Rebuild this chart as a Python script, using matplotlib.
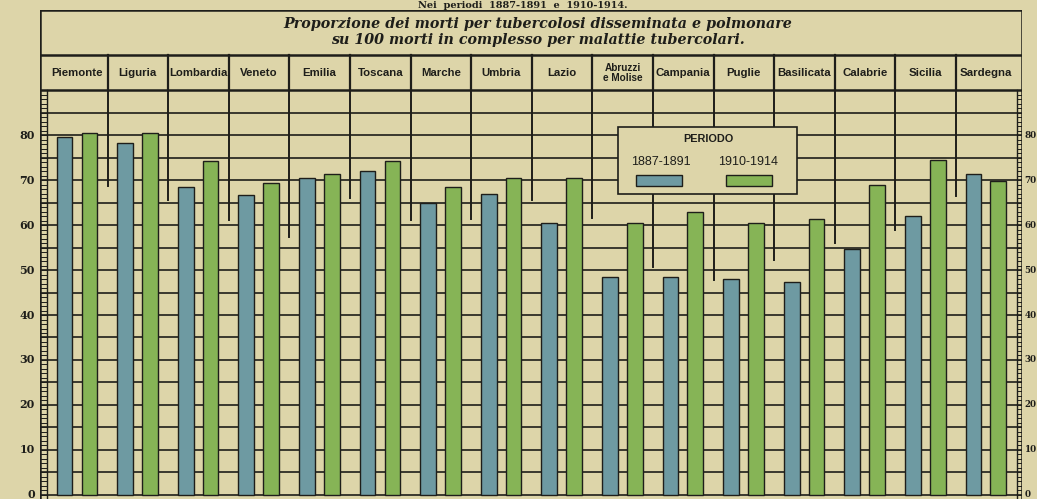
import numpy as np
import matplotlib
matplotlib.use('Agg')
import matplotlib.pyplot as plt
from matplotlib.patches import Rectangle

# Data
regions = ['Piemonte', 'Liguria', 'Lombardia', 'Veneto', 'Emilia', 'Toscana',
           'Marche', 'Umbria', 'Lazio', 'Abruzzi\ne Molise', 'Campania', 'Puglie',
           'Basilicata', 'Calabrie', 'Sicilia', 'Sardegna']
p1887 = [79.5, 78.3, 68.5, 66.7, 70.4, 72.1, 65.0, 66.9, 60.4, 48.5, 48.4, 48.1,
         47.3, 54.6, 61.9, 71.3]
p1910 = [80.4, 80.4, 74.3, 69.4, 71.3, 74.3, 68.5, 70.4, 70.4, 60.5, 63.0, 60.4,
         61.3, 68.9, 74.4, 69.8]
# where the column dividers stop below the header
divider_ends = [68.7, 65.6, 61.1, 57.4, 65.9, 61.1, 61.3, 65.6, 61.5, 50.7,
                47.8, 52.2, 55.9, 58.9, 66.4]
yticks = [0, 10, 20, 30, 40, 50, 60, 70, 80]

paper = '#ddd5a9'
ink = '#1e1e1a'
blue = '#6e9aa2'
green = '#86b456'

fig = plt.figure(figsize=(10.37, 4.99), dpi=100, facecolor=paper)
ax = fig.add_axes([40/1037, 0, 982/1037, 489/499])
ax.set_facecolor(paper)
ax.set_xlim(-0.115, 16.09)
ax.set_ylim(-0.9, 107.8)
ax.axis('off')

n = len(regions)
x0, x1 = -0.115, 16.09

# horizontal grid
for v in np.arange(0, 90, 5):
    ax.plot([x0, x1], [v, v], color=ink, lw=1.2, zorder=1)

# header and title box
for v in [90, 97.8, 107.8]:
    ax.plot([x0, x1], [v, v], color=ink, lw=1.8, zorder=3)
ax.plot([x0, x0], [-0.9, 107.8], color=ink, lw=1.8, zorder=3)
ax.plot([x1, x1], [-0.9, 107.8], color=ink, lw=1.8, zorder=3)

# ladders left and right
ax.plot([0, 0], [-0.9, 90], color=ink, lw=1.0, zorder=3)
ax.plot([16, 16], [-0.9, 90], color=ink, lw=1.0, zorder=3)
for v in range(0, 90):
    ax.plot([x0, 0], [v, v], color=ink, lw=0.7, zorder=3)
    ax.plot([16, x1], [v, v], color=ink, lw=0.7, zorder=3)

# column dividers
for i in range(1, n):
    ax.plot([i, i], [90, 97.8], color=ink, lw=1.6, zorder=3)
    ax.plot([i, i], [divider_ends[i - 1], 90], color=ink, lw=1.4, zorder=1)

# header labels
for i, r in enumerate(regions):
    fs = 7.2 if '\n' in r else 8.2
    ax.text(i + 0.5, 93.9, r, ha='center', va='center', fontsize=fs,
            fontweight='bold', family='Liberation Sans', color=ink,
            linespacing=1.0, zorder=4)

# bars
xs = np.arange(n)
ax.bar(xs + 0.29, p1887, width=0.26, color=blue, edgecolor=ink, lw=1.0, zorder=2)
ax.bar(xs + 0.70, p1910, width=0.26, color=green, edgecolor=ink, lw=1.0, zorder=2)

# y labels
for v in yticks:
    ax.text(-0.2, v, str(v), ha='right', va='center', fontsize=8,
            fontweight='bold', family='DejaVu Serif', color=ink, clip_on=False)
    ax.text(16.135, v, str(v), ha='left', va='center', fontsize=6.3,
            fontweight='bold', family='DejaVu Serif', color=ink, clip_on=False)

# title
ax.text(8.1, 102.9,
        'Proporzione dei morti per tubercolosi disseminata e polmonare\n'
        'su 100 morti in complesso per malattie tubercolari.',
        ha='center', va='center', fontsize=10.3, fontweight='bold',
        style='italic', family='DejaVu Serif', color=ink, linespacing=1.1,
        zorder=4)
ax.text(7.85, 108.2, 'Nei  periodi  1887-1891  e  1910-1914.', ha='center',
        va='baseline', fontsize=7, fontweight='bold', family='DejaVu Serif',
        color=ink, clip_on=False)

# legend box
ax.add_patch(Rectangle((9.42, 66.9), 2.96, 14.9, facecolor=paper,
                       edgecolor=ink, lw=1.2, zorder=5))
ax.text(10.91, 79.1, 'PERIODO', ha='center', va='center', fontsize=7.8,
        fontweight='bold', family='Liberation Sans', color=ink, zorder=6)
ax.text(10.13, 74.0, '1887-1891', ha='center', va='center', fontsize=9,
        family='Liberation Sans', color=ink, zorder=6)
ax.text(11.57, 74.0, '1910-1914', ha='center', va='center', fontsize=9,
        family='Liberation Sans', color=ink, zorder=6)
ax.add_patch(Rectangle((9.72, 68.7), 0.76, 2.4, facecolor=blue, edgecolor=ink,
                       lw=1.0, zorder=6))
ax.add_patch(Rectangle((11.2, 68.7), 0.76, 2.4, facecolor=green, edgecolor=ink,
                       lw=1.0, zorder=6))

fig.savefig('out.png', dpi=100, facecolor=paper)
